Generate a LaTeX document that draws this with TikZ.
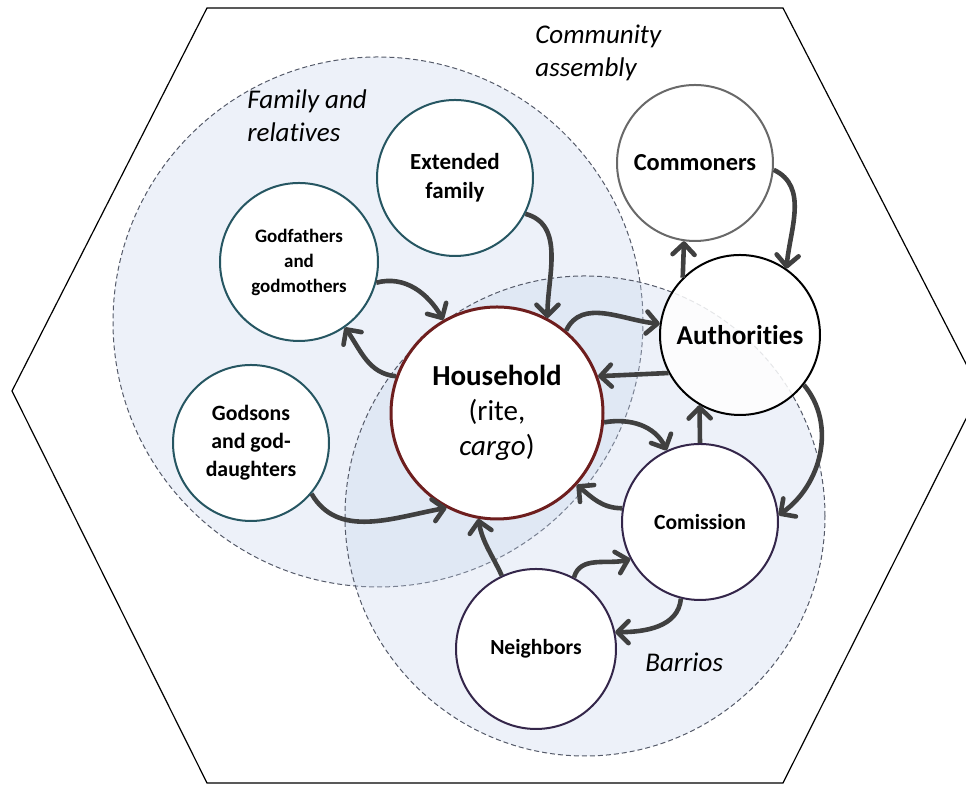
\documentclass[tikz,border=0pt]{standalone}
\usepackage{fontspec}
\setmainfont[Ligatures=NoCommon]{Carlito}
\usetikzlibrary{arrows.meta}

\definecolor{flowgrey}{RGB}{64,64,64}
\definecolor{tealline}{RGB}{38,86,98}
\definecolor{hhred}{RGB}{110,30,30}
\definecolor{barplum}{RGB}{52,38,74}
\definecolor{commgrey}{RGB}{105,105,105}
\definecolor{grpblue}{RGB}{198,212,235}
\definecolor{grpline}{RGB}{85,90,105}

\begin{document}
\begin{tikzpicture}[x=0.5pt,y=0.5pt,
  actor/.style={circle, draw, fill=white, line width=1pt, inner sep=0pt, align=center},
  grp/.style={fill=grpblue, fill opacity=0.32, draw=grpline, draw opacity=1, line width=0.5pt, dash pattern=on 2.5pt off 1.5pt},
  grplabel/.style={font=\fontsize{13.5}{16.5}\selectfont\itshape, align=left, inner sep=0pt},
  flow/.style={draw=flowgrey, line width=2.3pt, -{Straight Barb[length=5.5pt,width=11pt,round]}}]
\useasboundingbox (0,0) rectangle (966,785);

% assembly hexagon
\draw[line width=0.6pt] (207,777) -- (783,777) -- (980,394) -- (783,2) -- (207,2) -- (12,394) -- cycle;

% family and barrios areas
\draw[grp] (378,463) circle (265);
\draw[grp] (585,269) circle (240);

\node[grplabel, anchor=north west] (asmlabel) at (535,760) {Community\\assembly};
\node[grplabel, anchor=north west] (famlabel) at (247,696) {Family and\\relatives};
\node[grplabel, anchor=base west] (barlabel) at (645,113) {Barrios};

% actors
\node[actor, draw=hhred, line width=1.5pt, minimum size=106pt, font=\fontsize{14.5}{17.5}\selectfont] (hh) at (497,372) {\textbf{Household}\\(rite,\\\textit{cargo})};
\node[actor, draw=black, minimum size=80pt, fill opacity=0.85, text opacity=1, font=\bfseries\fontsize{13.6}{16}\selectfont] (auth) at (740,450) {Authorities};
\node[actor, draw=commgrey, minimum size=78pt, font=\bfseries\fontsize{12.2}{14.5}\selectfont] (comm) at (695,622) {Commoners};
\node[actor, draw=tealline, minimum size=78pt, font=\bfseries\fontsize{11.5}{14.5}\selectfont] (ext) at (455,607) {Extended\\family};
\node[actor, draw=tealline, minimum size=79pt, font=\bfseries\fontsize{9.5}{12.5}\selectfont] (godf) at (299,523) {Godfathers\\and\\godmothers};
\node[actor, draw=tealline, minimum size=78pt, font=\bfseries\fontsize{10.9}{14}\selectfont] (gods) at (251,342) {Godsons\\and god-\\daughters};
\node[actor, draw=barplum, minimum size=78pt, font=\bfseries\fontsize{10.8}{13}\selectfont] (comi) at (700,263) {Comission};
\node[actor, draw=barplum, minimum size=80pt, font=\bfseries\fontsize{10.8}{13}\selectfont] (neigh) at (536,136) {Neighbors};

% exchanges
\draw[flow] (ext.-27) to[out=-15, in=90] (hh.62);
\draw[flow] (godf.-15) to[out=15, in=120] (hh.120);
\draw[flow] (hh.160) to[out=175, in=-55] (godf.-55);
\draw[flow] (gods.-40) to[out=-60, in=190] (hh.-118);
\draw[flow] (neigh.115) to[out=115, in=-80] (hh.-100);
\draw[flow] (hh.50) to[out=65, in=175] (auth.172);
\draw[flow] (auth.-152) -- (hh.20);
\draw[flow] (hh.-5) to[out=10, in=115] (comi.115);
\draw[flow] (comi.170) to[out=180, in=-40] (hh.-42);
\draw[flow] (comi.90) -- (auth.-120);
\draw[flow] (auth.-38) to[out=-50, in=35] (comi.5);
\draw[flow] (auth.135) -- (comm.-98);
\draw[flow] (comm.-5) to[out=-25, in=85] (auth.55);
\draw[flow] (neigh.62) to[out=75, in=195] (comi.-152);
\draw[flow] (comi.-104) to[out=-95, in=0] (neigh.12);
\end{tikzpicture}
\end{document}
